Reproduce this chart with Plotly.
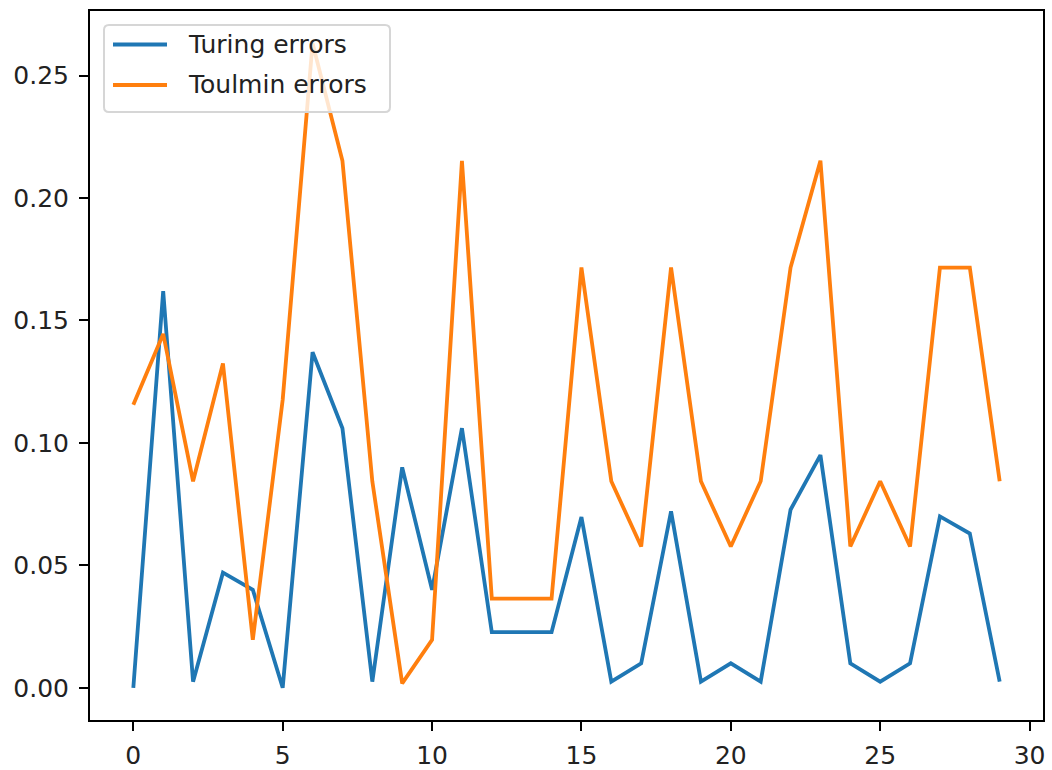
import plotly.graph_objects as go

x_values = list(range(30))

turing_errors = [0.000, 0.162, 0.0025, 0.047, 0.040, 0.000, 0.137, 0.106, 0.0025, 0.090,
                 0.040, 0.106, 0.0227, 0.0227, 0.0227, 0.0697, 0.0025, 0.010, 0.072, 0.0025,
                 0.010, 0.0025, 0.0727, 0.095, 0.010, 0.0025, 0.010, 0.070, 0.063, 0.0025]

toulmin_errors = [0.1156, 0.1445, 0.0843, 0.1324, 0.0196, 0.1176, 0.2632, 0.2152, 0.0843, 0.0018,
                  0.0196, 0.2152, 0.0364, 0.0364, 0.0364, 0.1716, 0.0843, 0.0577, 0.1716, 0.0843,
                  0.0577, 0.0843, 0.1716, 0.2152, 0.0577, 0.0843, 0.0577, 0.1716, 0.1716, 0.0843]

series_names = ["Turing errors", "Toulmin errors"]
series_colors = ["#1f77b4", "#ff7f0e"]

FONT = "DejaVu Sans"
FS = 25
W, H = 1052, 770
ML, MR, MT, MB = 90, 9, 11, 50
PW, PH = W - ML - MR, H - MT - MB

fig = go.Figure()
for name, vals, col in zip(series_names, [turing_errors, toulmin_errors], series_colors):
    fig.add_trace(go.Scatter(x=x_values, y=vals, mode="lines", name=name,
                             line=dict(color=col, width=3.8), showlegend=False))

ymax = max(max(turing_errors), max(toulmin_errors))
ymin = min(min(turing_errors), min(toulmin_errors))
ypad = 0.05 * (ymax - ymin)
xpad = 0.05 * (max(x_values) - min(x_values))

axis_common = dict(showline=True, linecolor="black", linewidth=2, mirror=True,
                   showgrid=False, zeroline=False, ticks="outside", ticklen=9,
                   tickwidth=2, tickcolor="black", automargin=False,
                   tickfont=dict(family=FONT, size=FS, color="#222222"))


# ---- legend drawn in matplotlib style (pixel positions converted to paper coords)
def px(xp):
    return (xp - ML) / PW


def py(yp):
    return (H - MB - yp) / PH


bx0, bx1, by0, by1, r = 104, 390, 25, 112, 5
rx, ry = r / PW, r / PH
path = (f"M{px(bx0)+rx},{py(by0)} L{px(bx1)-rx},{py(by0)} "
        f"Q{px(bx1)},{py(by0)} {px(bx1)},{py(by0)-ry} "
        f"L{px(bx1)},{py(by1)+ry} Q{px(bx1)},{py(by1)} {px(bx1)-rx},{py(by1)} "
        f"L{px(bx0)+rx},{py(by1)} Q{px(bx0)},{py(by1)} {px(bx0)},{py(by1)+ry} "
        f"L{px(bx0)},{py(by0)-ry} Q{px(bx0)},{py(by0)} {px(bx0)+rx},{py(by0)} Z")
shapes = [dict(type="path", xref="paper", yref="paper", path=path,
               fillcolor="rgba(255,255,255,0.8)", line=dict(color="#d6d6d6", width=2))]
annotations = []
row_y = [44.5, 85]
for name, col, yy in zip(series_names, series_colors, row_y):
    shapes.append(dict(type="line", xref="paper", yref="paper",
                       x0=px(113), x1=px(167), y0=py(yy), y1=py(yy),
                       line=dict(color=col, width=3.8)))
    annotations.append(dict(text=name, xref="paper", yref="paper", x=px(186), y=py(yy),
                            xanchor="left", yanchor="middle", showarrow=False,
                            font=dict(family=FONT, size=FS, color="#222222")))

fig.update_layout(
    width=W, height=H,
    margin=dict(l=ML, r=MR, t=MT, b=MB),
    paper_bgcolor="white", plot_bgcolor="white",
    font=dict(family=FONT, size=FS, color="#222222"),
    xaxis=dict(range=[min(x_values) - xpad, max(x_values) + xpad], dtick=5, tick0=0,
               ticklabelstandoff=3, **axis_common),
    yaxis=dict(range=[ymin - ypad, ymax + ypad], dtick=0.05, tick0=0, tickformat=".2f",
               ticklabelstandoff=5, **axis_common),
    shapes=shapes,
    annotations=annotations,
    showlegend=False,
)

fig.write_html("out.html",
               config={"displayModeBar": False},
               post_script="document.body.style.margin='0';document.body.style.overflow='hidden';")
